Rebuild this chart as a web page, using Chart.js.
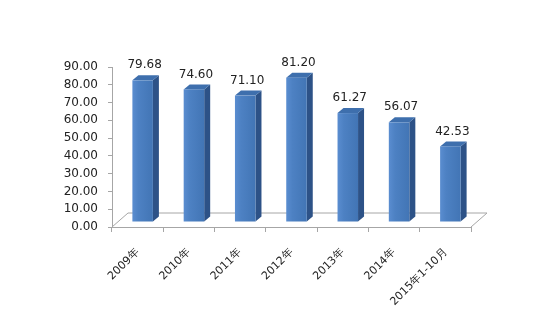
<!DOCTYPE html>
<html>
<head>
<meta charset="utf-8">
<script src="https://cdn.jsdelivr.net/npm/chart.js@4"></script>
<style>
  html, body { margin: 0; padding: 0; background: #fff; }
  #wrap { width: 546px; height: 323px; }
</style>
</head>
<body>
<div id="wrap"><canvas id="c" width="546" height="323"></canvas></div>
<script>
const categories = ["2009年", "2010年", "2011年", "2012年", "2013年", "2014年", "2015年1-10月"];
const values = [79.68, 74.60, 71.10, 81.20, 61.27, 56.07, 42.53];
const yTicks = [0, 10, 20, 30, 40, 50, 60, 70, 80, 90];

// offsets for the fake 3D look
const BAR_DX = 5, BAR_DY = -5;
const SIDE_DX = 6, SIDE_DY = -5;
const FLOOR_DX = 16, FLOOR_DY = -14;

const floorPlugin = {
  id: 'floor',
  beforeDatasetsDraw(chart) {
    const { ctx, chartArea: a } = chart;
    ctx.save();
    ctx.strokeStyle = '#a6a6a6';
    ctx.lineWidth = 1;
    ctx.beginPath();
    ctx.moveTo(a.left, a.bottom);
    ctx.lineTo(a.left + FLOOR_DX, a.bottom + FLOOR_DY);
    ctx.lineTo(a.right + FLOOR_DX, a.bottom + FLOOR_DY);
    ctx.lineTo(a.right, a.bottom);
    ctx.stroke();
    ctx.restore();
  }
};

const bar3dPlugin = {
  id: 'bar3d',
  afterDatasetsDraw(chart) {
    const ctx = chart.ctx;
    const meta = chart.getDatasetMeta(0);
    ctx.save();
    meta.data.forEach((bar, i) => {
      const w = bar.width;
      const l = bar.x - w / 2 + BAR_DX, r = bar.x + w / 2 + BAR_DX;
      const t = bar.y + BAR_DY, b = bar.base + BAR_DY;
      // side
      ctx.fillStyle = '#2d5287';
      ctx.beginPath();
      ctx.moveTo(r, t);
      ctx.lineTo(r + SIDE_DX, t + SIDE_DY);
      ctx.lineTo(r + SIDE_DX, b + SIDE_DY);
      ctx.lineTo(r, b);
      ctx.closePath();
      ctx.fill();
      // top
      ctx.fillStyle = '#3e6fad';
      ctx.beginPath();
      ctx.moveTo(l, t);
      ctx.lineTo(l + SIDE_DX, t + SIDE_DY);
      ctx.lineTo(r + SIDE_DX, t + SIDE_DY);
      ctx.lineTo(r, t);
      ctx.closePath();
      ctx.fill();
      // front
      const g = ctx.createLinearGradient(l, 0, r, 0);
      g.addColorStop(0, '#5a8dd0');
      g.addColorStop(0.3, '#4d81c3');
      g.addColorStop(1, '#4275b5');
      ctx.fillStyle = g;
      ctx.fillRect(l, t, w, b - t);
      // value label
      ctx.fillStyle = '#222';
      ctx.font = '12px "DejaVu Sans", Verdana, sans-serif';
      ctx.textAlign = 'center';
      ctx.textBaseline = 'bottom';
      ctx.fillText(values[i].toFixed(2), bar.x + BAR_DX + 2, t + SIDE_DY - 4);
    });
    ctx.restore();
  }
};

new Chart(document.getElementById('c'), {
  type: 'bar',
  data: {
    labels: categories,
    datasets: [{
      data: values,
      backgroundColor: 'rgba(0,0,0,0)',
      borderWidth: 0,
      barPercentage: 0.4,
      categoryPercentage: 1.0
    }]
  },
  options: {
    responsive: false,
    animation: false,
    events: [],
    layout: { padding: { top: 67, right: 75, left: 0, bottom: 0 } },
    plugins: { legend: { display: false }, tooltip: { enabled: false } },
    scales: {
      x: {
        afterFit(scale) { scale.height = 96; },
        grid: { drawOnChartArea: false, tickLength: 5, color: '#a6a6a6' },
        border: { color: '#a6a6a6' },
        ticks: {
          maxRotation: 45, minRotation: 45, padding: 14,
          color: '#222',
          font: { size: 11, family: '"DejaVu Sans", Verdana, sans-serif' }
        }
      },
      y: {
        min: 0, max: 90,
        afterFit(scale) { scale.width = 112; },
        afterBuildTicks(scale) { scale.ticks = yTicks.map(v => ({ value: v })); },
        grid: { drawOnChartArea: false, tickLength: 4, color: '#a6a6a6' },
        border: { color: '#a6a6a6' },
        ticks: {
          padding: 10, color: '#222',
          font: { size: 12, family: '"DejaVu Sans", Verdana, sans-serif' },
          callback: v => v.toFixed(2)
        }
      }
    }
  },
  plugins: [floorPlugin, bar3dPlugin]
});
</script>
</body>
</html>
